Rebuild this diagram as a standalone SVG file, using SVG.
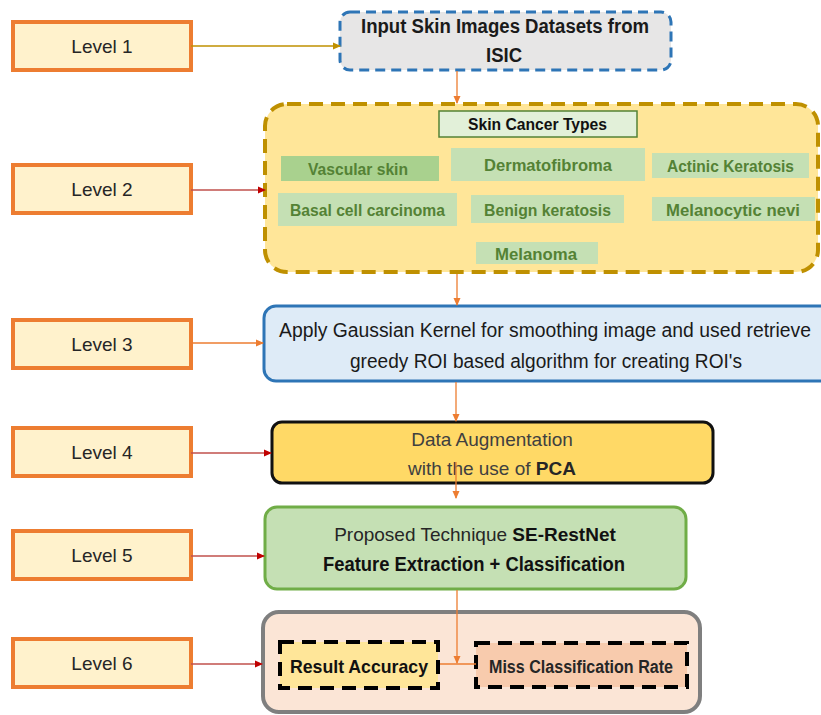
<svg xmlns="http://www.w3.org/2000/svg" width="821" height="715" viewBox="0 0 821 715">
<style>
text{font-family:"Liberation Sans",Arial,sans-serif}
.lvl rect{fill:#FFF2CC;stroke:#ED7D31;stroke-width:4}
.lvl text{font-size:19px;fill:#262626;text-anchor:middle}
.sub{fill:#C5E0B4}
.subt{font-size:17px;font-weight:bold;fill:#548235}
.conn line{fill:none}
.or{stroke:#ED7D31;stroke-width:1.3}
.rd{stroke:#C0504D;stroke-width:1.3}
</style>
<defs>
<marker id="aOr" markerWidth="8" markerHeight="8" refX="7" refY="4" orient="auto" markerUnits="userSpaceOnUse"><path d="M0,0.5 L8,4 L0,7.5 Z" fill="#ED7D31"/></marker>
<marker id="aRd" markerWidth="8" markerHeight="8" refX="7" refY="4" orient="auto" markerUnits="userSpaceOnUse"><path d="M0,0.5 L8,4 L0,7.5 Z" fill="#C00000"/></marker>
<marker id="aGd" markerWidth="8" markerHeight="8" refX="7" refY="4" orient="auto" markerUnits="userSpaceOnUse"><path d="M0,0.5 L8,4 L0,7.5 Z" fill="#BF9000"/></marker>
</defs>
<rect width="821" height="715" fill="#ffffff"/>

<g id="level1" class="lvl"><rect x="13" y="22" width="178" height="48"/><text x="102" y="53">Level 1</text></g>
<g id="level2" class="lvl"><rect x="13" y="165" width="178" height="48"/><text x="102" y="196">Level 2</text></g>
<g id="level3" class="lvl"><rect x="13" y="320" width="178" height="48"/><text x="102" y="351">Level 3</text></g>
<g id="level4" class="lvl"><rect x="13" y="428" width="178" height="48"/><text x="102" y="459">Level 4</text></g>
<g id="level5" class="lvl"><rect x="13" y="531" width="178" height="48"/><text x="102" y="562">Level 5</text></g>
<g id="level6" class="lvl"><rect x="13" y="639" width="178" height="48"/><text x="102" y="670">Level 6</text></g>

<g id="input">
<rect x="340" y="12" width="331" height="58" rx="10" fill="#E7E6E6" stroke="#2E75B6" stroke-width="3" stroke-dasharray="10 6"/>
<text x="361" y="33" font-size="20" font-weight="bold" fill="#1a1a1a" textLength="288" lengthAdjust="spacingAndGlyphs">Input Skin Images Datasets from</text>
<text x="486" y="62" font-size="20" font-weight="bold" fill="#1a1a1a" textLength="36" lengthAdjust="spacingAndGlyphs">ISIC</text>
</g>

<g id="types">
<rect x="265" y="104" width="553" height="168" rx="22" fill="#FFE699" stroke="#BF9000" stroke-width="4" stroke-dasharray="14 8"/>
<rect x="439" y="111" width="198" height="26" fill="#E2F0D9" stroke="#548235" stroke-width="1.5"/>
<text x="468" y="130" font-size="16" font-weight="bold" fill="#111" textLength="139" lengthAdjust="spacingAndGlyphs">Skin Cancer Types</text>
<rect x="281" y="156" width="158" height="25" fill="#A9D18E"/>
<text class="subt" x="308" y="175" textLength="100" lengthAdjust="spacingAndGlyphs">Vascular skin</text>
<rect class="sub" x="451" y="148" width="194" height="33"/>
<text class="subt" x="484" y="171" textLength="128" lengthAdjust="spacingAndGlyphs">Dermatofibroma</text>
<rect class="sub" x="652" y="153" width="157" height="25"/>
<text class="subt" x="667" y="172" textLength="127" lengthAdjust="spacingAndGlyphs">Actinic Keratosis</text>
<rect class="sub" x="278" y="193" width="179" height="33"/>
<text class="subt" x="290" y="216" textLength="155" lengthAdjust="spacingAndGlyphs">Basal cell carcinoma</text>
<rect class="sub" x="471" y="195" width="153" height="28"/>
<text class="subt" x="484" y="216" textLength="127" lengthAdjust="spacingAndGlyphs">Benign keratosis</text>
<rect class="sub" x="652" y="197" width="163" height="24"/>
<text class="subt" x="666" y="216" textLength="134" lengthAdjust="spacingAndGlyphs">Melanocytic nevi</text>
<rect class="sub" x="476" y="242" width="122" height="22"/>
<text class="subt" x="495" y="260" textLength="82" lengthAdjust="spacingAndGlyphs">Melanoma</text>
</g>

<g id="gaussian">
<rect x="264" y="306" width="570" height="75" rx="12" fill="#DEEBF7" stroke="#2E75B6" stroke-width="3"/>
<text x="279" y="337" font-size="20" fill="#1a1a1a" textLength="532" lengthAdjust="spacingAndGlyphs">Apply Gaussian Kernel for smoothing image and used retrieve</text>
<text x="350" y="368" font-size="20" fill="#1a1a1a" textLength="392" lengthAdjust="spacingAndGlyphs">greedy ROI based algorithm for creating ROI's</text>
</g>

<g id="augment">
<rect x="272" y="422" width="441" height="61" rx="10" fill="#FFD966" stroke="#111" stroke-width="3"/>
<text x="492" y="446" font-size="19" fill="#404040" text-anchor="middle">Data Augmentation</text>
<text x="492" y="475" font-size="19" fill="#404040" text-anchor="middle">with the use of <tspan font-weight="bold" fill="#262626">PCA</tspan></text>
</g>

<g id="technique">
<rect x="265" y="507" width="421" height="82" rx="12" fill="#C5E0B4" stroke="#70AD47" stroke-width="3"/>
<text x="475" y="541" font-size="19" fill="#262626" text-anchor="middle">Proposed Technique <tspan font-weight="bold" fill="#111">SE-RestNet</tspan></text>
<text x="323" y="571" font-size="20" font-weight="bold" fill="#111" textLength="302" lengthAdjust="spacingAndGlyphs">Feature Extraction + Classification</text>
</g>

<g id="results">
<rect x="263" y="612" width="437" height="100" rx="16" fill="#FBE5D6" stroke="#7F7F7F" stroke-width="4"/>
<rect x="280" y="642" width="158" height="46" fill="#FFE699" stroke="#000" stroke-width="4" stroke-dasharray="14 8"/>
<text x="290" y="673" font-size="19" font-weight="bold" fill="#111" textLength="138" lengthAdjust="spacingAndGlyphs">Result Accuracy</text>
<rect x="476" y="643" width="211" height="44" fill="#F8CBAD" stroke="#000" stroke-width="4" stroke-dasharray="14 8"/>
<text x="489" y="673" font-size="18" font-weight="bold" fill="#262626" textLength="184" lengthAdjust="spacingAndGlyphs">Miss Classification Rate</text>
</g>

<g id="connectors" class="conn">
<line x1="191" y1="46" x2="340" y2="46" stroke="#BF9000" stroke-width="1.3" marker-end="url(#aGd)"/>
<line class="rd" x1="191" y1="190" x2="265" y2="190" marker-end="url(#aRd)"/>
<line class="or" x1="191" y1="343" x2="263" y2="343" marker-end="url(#aOr)"/>
<line class="rd" x1="191" y1="453" x2="271" y2="453" marker-end="url(#aRd)"/>
<line class="rd" x1="191" y1="556" x2="264" y2="556" marker-end="url(#aRd)"/>
<line class="rd" x1="191" y1="664" x2="262" y2="664" marker-end="url(#aRd)"/>
<line class="or" x1="457" y1="71" x2="457" y2="103" marker-end="url(#aOr)"/>
<line class="or" x1="457" y1="274" x2="457" y2="305" marker-end="url(#aOr)"/>
<line class="or" x1="456" y1="382" x2="456" y2="421" marker-end="url(#aOr)"/>
<line class="or" x1="456" y1="462" x2="456" y2="498" marker-end="url(#aOr)"/>
<line class="or" x1="457" y1="590" x2="457" y2="663" marker-end="url(#aOr)"/>
<line class="or" x1="440" y1="664" x2="476" y2="664"/>
</g>
</svg>
